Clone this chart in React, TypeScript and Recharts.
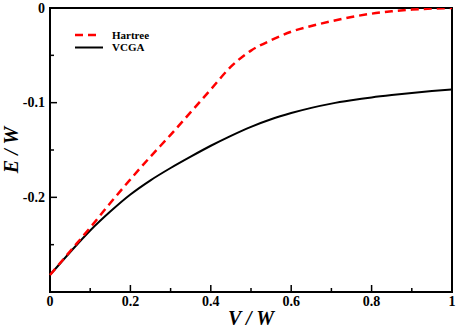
import React from "react";
import { LineChart, Line, XAxis, YAxis, ReferenceArea, Label } from "recharts";

const vValues = [0, 0.05, 0.1, 0.15, 0.2, 0.25, 0.3, 0.35, 0.4, 0.45, 0.5, 0.55, 0.6, 0.65, 0.7, 0.75, 0.8, 0.85, 0.9, 0.95, 1.0];
const hartree = [-0.282, -0.257, -0.232, -0.206, -0.181, -0.157, -0.134, -0.110, -0.086, -0.062, -0.045, -0.034, -0.025, -0.019, -0.014, -0.0095, -0.006, -0.0035, -0.0017, -0.0006, 0];
const vcga = [-0.282, -0.258, -0.235, -0.215, -0.197, -0.182, -0.169, -0.157, -0.1455, -0.135, -0.1255, -0.1175, -0.111, -0.1055, -0.101, -0.0975, -0.0945, -0.092, -0.0898, -0.0878, -0.086];

const xTicks = [0, 0.1, 0.2, 0.3, 0.4, 0.5, 0.6, 0.7, 0.8, 0.9, 1];
const xMajor = [0, 0.2, 0.4, 0.6, 0.8, 1];
const yTicks = [-0.25, -0.2, -0.15, -0.1, -0.05, 0];
const yMajor = [-0.2, -0.1, 0];
const seriesNames = ["Hartree", "VCGA"];

const data = vValues.map((v, i) => ({ v, hartree: hartree[i], vcga: vcga[i] }));

const FONT = "'Liberation Serif', 'Times New Roman', serif";

const isMajor = (arr: number[], val: number) => arr.some((m) => Math.abs(m - val) < 1e-9);
const fmt = (val: number) => {
  if (Math.abs(val) < 1e-9) return "0";
  if (Math.abs(val - 1) < 1e-9) return "1";
  return String(Math.round(val * 10) / 10);
};

const XTick = (props: any) => {
  const { x, y, payload } = props;
  const major = isMajor(xMajor, payload.value);
  return (
    <g>
      <line x1={x} y1={y} x2={x} y2={y - (major ? 7 : 4)} stroke="#000" strokeWidth={1.5} />
      {major && (
        <text x={x} y={y + 14} textAnchor="middle" fontFamily={FONT} fontWeight="bold" fontSize={14} fill="#000">
          {fmt(payload.value)}
        </text>
      )}
    </g>
  );
};

const YTick = (props: any) => {
  const { x, y, payload } = props;
  const major = isMajor(yMajor, payload.value);
  return (
    <g>
      <line x1={x} y1={y} x2={x + (major ? 7 : 4)} y2={y} stroke="#000" strokeWidth={1.5} />
      {major && (
        <text x={x - 5} y={y + 4.5} textAnchor="end" fontFamily={FONT} fontWeight="bold" fontSize={14} fill="#000">
          {fmt(payload.value)}
        </text>
      )}
    </g>
  );
};

const LegendBox = () => (
  <svg width={90} height={30} style={{ position: "absolute", left: 72, top: 28, display: "block" }}>
    <line x1={3} y1={7} x2={26} y2={7} stroke="#ff0000" strokeWidth={2.5} strokeDasharray="8 5" />
    <text x={40} y={11} fontFamily={FONT} fontWeight="bold" fontSize={11} fill="#000">{seriesNames[0]}</text>
    <line x1={3} y1={19.5} x2={31} y2={19.5} stroke="#000" strokeWidth={2} />
    <text x={40} y={23} fontFamily={FONT} fontWeight="bold" fontSize={11} fill="#000">{seriesNames[1]}</text>
  </svg>
);

export default function App() {
  return (
    <div style={{ position: "absolute", left: 0, top: 0, width: 457, height: 332, background: "#fff" }}>
      <LineChart width={457} height={332} data={data} margin={{ top: 8, right: 5, bottom: 0, left: 0 }}>
        <XAxis
          dataKey="v"
          type="number"
          domain={[0, 1]}
          ticks={xTicks}
          interval={0}
          tickSize={0}
          tickMargin={0}
          tickLine={false}
          axisLine={false}
          tick={<XTick />}
          height={40}
        >
          <Label
            content={(p: any) => {
              const vb = p.viewBox;
              return (
                <text x={vb.x + vb.width / 2} y={vb.y + 33} textAnchor="middle" fontFamily={FONT} fontWeight="bold" fontStyle="italic" fontSize={20} fill="#000">
                  V / W
                </text>
              );
            }}
          />
        </XAxis>
        <YAxis
          type="number"
          domain={[-0.3, 0]}
          ticks={yTicks}
          interval={0}
          tickSize={0}
          tickMargin={0}
          tickLine={false}
          axisLine={false}
          tick={<YTick />}
          width={50}
          allowDataOverflow
        >
          <Label
            content={(p: any) => {
              const vb = p.viewBox;
              const cy = vb.y + vb.height / 2;
              return (
                <text x={18} y={cy} transform={`rotate(-90, 18, ${cy})`} textAnchor="middle" fontFamily={FONT} fontWeight="bold" fontStyle="italic" fontSize={20} fill="#000">
                  E / W
                </text>
              );
            }}
          />
        </YAxis>
        <ReferenceArea x1={0} x2={1} y1={-0.3} y2={0} fill="none" fillOpacity={0} stroke="#000" strokeWidth={2} ifOverflow="visible" />
        <Line type="monotone" dataKey="vcga" stroke="#000" strokeWidth={2} dot={false} isAnimationActive={false} />
        <Line type="monotone" dataKey="hartree" stroke="#ff0000" strokeWidth={2.5} strokeDasharray="8 5" dot={false} isAnimationActive={false} />
      </LineChart>
      <LegendBox />
    </div>
  );
}
